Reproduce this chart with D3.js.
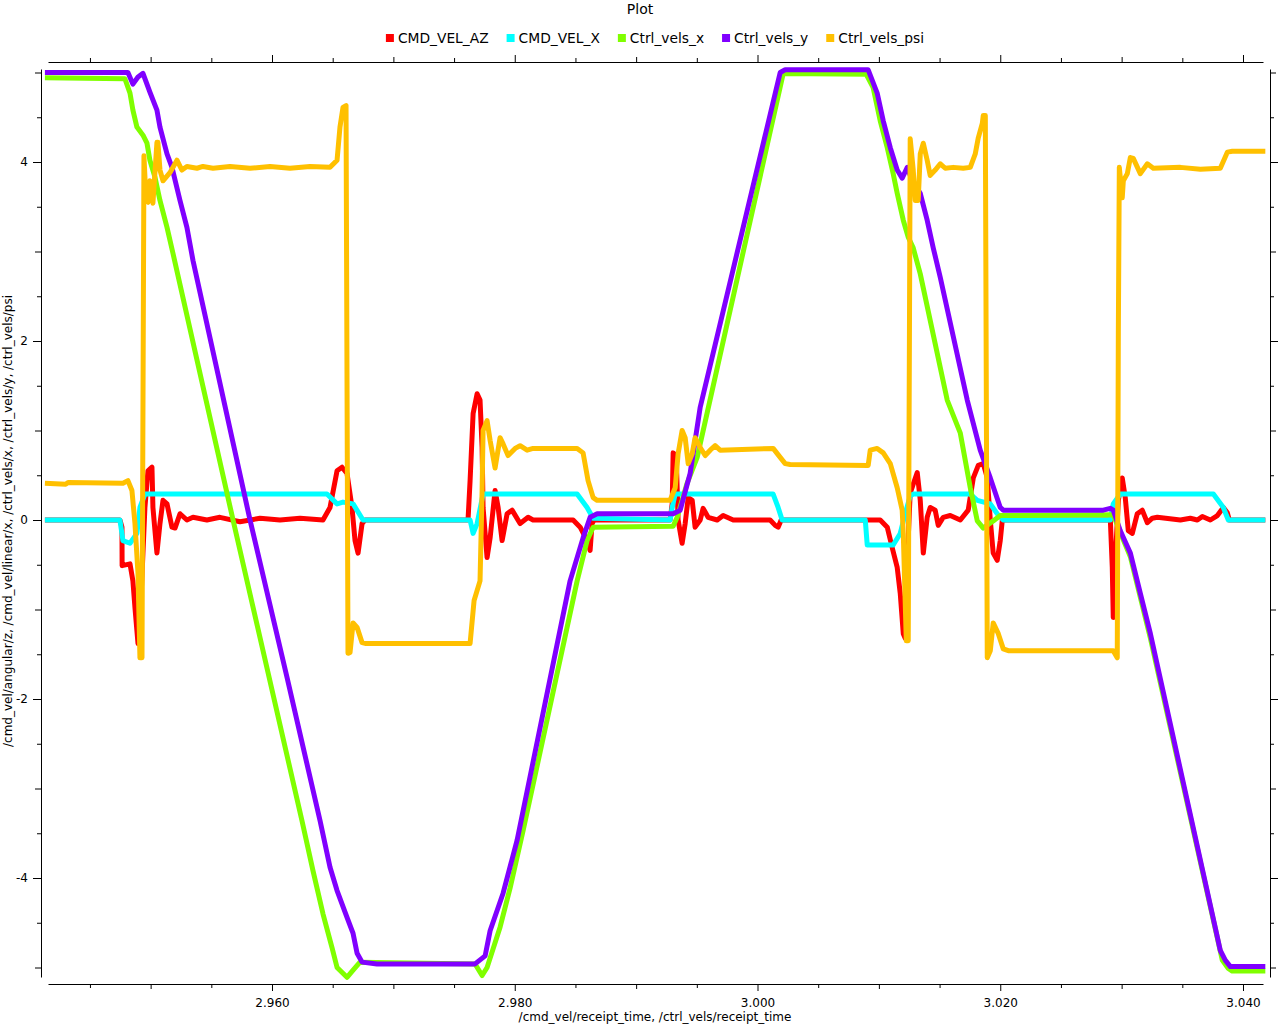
<!DOCTYPE html>
<html><head><meta charset="utf-8">
<script src="https://cdn.jsdelivr.net/npm/d3@7"></script>
<style>
body{margin:0;background:#fff}
svg{display:block}
text{font-family:"DejaVu Sans",sans-serif;fill:#000}
</style>
</head><body>
<svg id="c" width="1280" height="1024"></svg>
<script>
const titleText = "Plot";
const xTitle = "/cmd_vel/receipt_time, /ctrl_vels/receipt_time";
const yTitle = "/cmd_vel/angular/z, /cmd_vel/linear/x, /ctrl_vels/x, /ctrl_vels/y, /ctrl_vels/psi";
const seriesNames = ["CMD_VEL_AZ", "CMD_VEL_X", "Ctrl_vels_x", "Ctrl_vels_y", "Ctrl_vels_psi"];
const seriesColors = ["#ff0000", "#00ffff", "#80ff00", "#8000ff", "#ffc000"];
const xMajorTicks = [2.960, 2.980, 3.000, 3.020, 3.040];
const yMajorTicks = [-4, -2, 0, 2, 4];

const cmdVelAz = [[2.94129,0],[2.94747,0],[2.94764,-0.08],[2.94765,-0.51],[2.94830,-0.49],[2.94854,-0.68],[2.94871,-0.98],[2.94896,-1.38],[2.94920,-0.90],[2.94953,0.14],[2.94978,0.55],[2.95011,0.59],[2.95019,0.14],[2.95052,-0.37],[2.95077,-0.04],[2.95102,0.22],[2.95135,0.18],[2.95176,-0.08],[2.95201,-0.09],[2.95242,0.07],[2.95299,0.0],[2.95349,0.03],[2.95464,0.0],[2.95571,0.03],[2.95736,-0.02],[2.95901,0.02],[2.96066,0.0],[2.96231,0.02],[2.96420,0.0],[2.96478,0.14],[2.96536,0.55],[2.96577,0.59],[2.96618,0.52],[2.96659,0.14],[2.96684,-0.23],[2.96709,-0.37],[2.96742,-0.04],[2.96767,0],[2.97615,0],[2.97632,0.44],[2.97657,1.19],[2.97690,1.41],[2.97714,1.34],[2.97731,0.81],[2.97739,0.14],[2.97772,-0.42],[2.97797,-0.20],[2.97838,0.33],[2.97863,0.14],[2.97896,-0.23],[2.97937,0.07],[2.97978,0.11],[2.98044,-0.04],[2.98110,0.03],[2.98151,0],[2.98481,0],[2.98539,-0.08],[2.98596,-0.23],[2.98621,-0.34],[2.98637,-0.04],[2.98654,0],[2.99280,0],[2.99297,0.18],[2.99305,0.75],[2.99330,0.72],[2.99346,0],[2.99379,-0.26],[2.99404,-0.04],[2.99429,0.25],[2.99462,0.22],[2.99486,-0.08],[2.99528,0],[2.99552,0.13],[2.99593,0.03],[2.99668,0],[2.99717,0.05],[2.99800,0],[3.00104,0],[3.00146,-0.06],[3.00170,-0.08],[3.00195,0],[3.01011,0],[3.01069,-0.08],[3.01110,-0.31],[3.01151,-0.53],[3.01176,-0.82],[3.01201,-1.27],[3.01217,-1.32],[3.01234,-0.45],[3.01258,0.30],[3.01316,0.53],[3.01341,0.22],[3.01366,-0.37],[3.01398,0.03],[3.01423,0.14],[3.01464,0.11],[3.01489,-0.06],[3.01530,0.03],[3.01588,0.05],[3.01671,0],[3.01736,0.11],[3.01778,0.47],[3.01819,0.61],[3.01860,0.63],[3.01893,0.47],[3.01918,0],[3.01942,-0.37],[3.01975,-0.45],[3.02000,-0.23],[3.02017,0],[3.02907,0],[3.02923,-0.53],[3.02931,-1.09],[3.02948,-0.45],[3.02973,0.22],[3.03005,0.47],[3.03030,0.25],[3.03055,-0.12],[3.03088,-0.15],[3.03129,0.07],[3.03170,0.11],[3.03212,-0.03],[3.03253,0.02],[3.03294,0.03],[3.03484,0],[3.03566,0.02],[3.03624,0],[3.03665,0.04],[3.03731,0],[3.03789,0.05],[3.03838,0.14],[3.03871,0.08],[3.03887,0],[3.04184,0]];

const cmdVelX = [[2.94129,0],[2.94747,0],[2.94772,-0.23],[2.94830,-0.26],[2.94887,-0.15],[2.94912,0.14],[2.94953,0.29],[2.96453,0.29],[2.96536,0.18],[2.96585,0.20],[2.96668,0.18],[2.96750,0],[2.97632,0],[2.97657,-0.15],[2.97690,-0.04],[2.97739,0.29],[2.98514,0.29],[2.98596,0.14],[2.98646,0.02],[2.99280,0],[2.99297,0.14],[2.99322,0.29],[3.00129,0.29],[3.00170,0.14],[3.00203,0],[3.00888,0],[3.00904,-0.28],[3.01118,-0.28],[3.01176,-0.15],[3.01217,0.07],[3.01258,0.27],[3.01283,0.29],[3.01753,0.29],[3.01811,0.22],[3.01918,0.18],[3.01975,0.07],[3.02025,0],[3.02907,0],[3.02931,0.18],[3.02989,0.29],[3.03756,0.29],[3.03838,0.14],[3.03879,0],[3.04184,0]];

const ctrlVelsX = [[2.94129,4.94],[2.94788,4.93],[2.94830,4.77],[2.94854,4.58],[2.94887,4.39],[2.94937,4.30],[2.94970,4.21],[2.94994,4.02],[2.95036,3.83],[2.95077,3.57],[2.95135,3.27],[2.95184,2.98],[2.95679,0.0],[2.96247,-3.36],[2.96338,-3.92],[2.96420,-4.40],[2.96495,-4.78],[2.96536,-5.00],[2.96618,-5.11],[2.96668,-5.03],[2.96725,-4.94],[2.97673,-4.96],[2.97731,-5.09],[2.97772,-5.00],[2.97879,-4.55],[2.97962,-4.11],[2.98069,-3.47],[2.98514,-0.68],[2.98596,-0.23],[2.98646,-0.08],[2.99305,-0.07],[2.99338,0.03],[2.99420,0.41],[2.99503,0.70],[3.00212,4.99],[3.00896,4.98],[3.00953,4.83],[3.01011,4.46],[3.01069,4.16],[3.01118,3.87],[3.01151,3.65],[3.01201,3.35],[3.01242,3.16],[3.01283,3.04],[3.01341,2.75],[3.01563,1.34],[3.01671,0.97],[3.01753,0.36],[3.01811,-0.01],[3.01860,-0.09],[3.01942,-0.01],[3.02000,0.05],[3.02931,0.06],[3.02989,-0.14],[3.03072,-0.41],[3.03237,-1.32],[3.03830,-4.92],[3.03879,-5.01],[3.03912,-5.04],[3.04184,-5.04]];

const ctrlVelsY = [[2.94129,5.00],[2.94813,5.00],[2.94854,4.87],[2.94896,4.95],[2.94937,4.99],[2.94994,4.78],[2.95052,4.58],[2.95077,4.39],[2.95135,4.09],[2.95176,3.94],[2.95242,3.57],[2.95299,3.27],[2.95349,2.90],[2.95819,0.0],[2.96124,-1.76],[2.96396,-3.36],[2.96478,-3.88],[2.96536,-4.14],[2.96618,-4.44],[2.96668,-4.62],[2.96701,-4.84],[2.96742,-4.94],[2.96865,-4.96],[2.97673,-4.96],[2.97756,-4.87],[2.97797,-4.59],[2.97904,-4.17],[2.98019,-3.58],[2.98456,-0.68],[2.98563,-0.20],[2.98621,0.03],[2.98679,0.07],[2.99305,0.07],[2.99363,0.11],[2.99445,0.52],[2.99528,1.26],[3.00187,5.00],[3.00228,5.03],[3.00912,5.03],[3.00986,4.77],[3.01036,4.46],[3.01094,4.16],[3.01151,3.91],[3.01192,3.82],[3.01234,3.94],[3.01275,3.79],[3.01341,3.65],[3.01398,3.35],[3.01448,3.04],[3.01506,2.71],[3.01728,1.34],[3.01835,0.78],[3.01918,0.47],[3.02000,0.14],[3.02025,0.11],[3.02849,0.11],[3.02907,0.13],[3.02931,0.11],[3.02989,-0.12],[3.03072,-0.37],[3.03154,-0.82],[3.03237,-1.27],[3.03813,-4.81],[3.03855,-4.92],[3.03896,-4.99],[3.04184,-4.99]];

const ctrlVelsPsi = [[2.94129,0.41],[2.94300,0.40],[2.94320,0.42],[2.94772,0.41],[2.94813,0.44],[2.94846,0.33],[2.94871,-0.04],[2.94896,-0.60],[2.94912,-1.54],[2.94929,-1.54],[2.94945,4.07],[2.94962,3.57],[2.94978,3.55],[2.94994,3.79],[2.95019,3.54],[2.95052,4.22],[2.95060,4.22],[2.95077,3.91],[2.95102,3.79],[2.95159,3.88],[2.95217,4.02],[2.95258,3.91],[2.95299,3.95],[2.95382,3.93],[2.95431,3.95],[2.95514,3.93],[2.95654,3.95],[2.95819,3.93],[2.95984,3.95],[2.96148,3.93],[2.96313,3.95],[2.96478,3.94],[2.96536,4.02],[2.96560,4.39],[2.96585,4.61],[2.96610,4.63],[2.96626,-1.49],[2.96643,-1.48],[2.96668,-1.15],[2.96701,-1.20],[2.96742,-1.37],[2.96775,-1.38],[2.97632,-1.38],[2.97665,-0.90],[2.97714,-0.68],[2.97731,0.33],[2.97739,1.00],[2.97772,1.11],[2.97797,0.89],[2.97838,0.58],[2.97879,0.92],[2.97904,0.85],[2.97945,0.72],[2.98003,0.80],[2.98044,0.83],[2.98102,0.78],[2.98151,0.80],[2.98514,0.80],[2.98563,0.75],[2.98604,0.44],[2.98646,0.25],[2.98679,0.22],[2.99280,0.22],[2.99322,0.36],[2.99346,0.74],[2.99379,1.00],[2.99404,0.92],[2.99429,0.63],[2.99462,0.74],[2.99486,0.92],[2.99528,0.81],[2.99569,0.72],[2.99610,0.78],[2.99651,0.83],[2.99692,0.78],[3.00129,0.80],[3.00187,0.70],[3.00228,0.63],[3.00269,0.62],[3.00912,0.61],[3.00929,0.78],[3.00986,0.80],[3.01036,0.75],[3.01094,0.63],[3.01151,0.36],[3.01192,0.11],[3.01201,-0.15],[3.01226,-1.35],[3.01242,-1.35],[3.01258,4.26],[3.01283,3.91],[3.01300,3.57],[3.01324,3.57],[3.01341,4.09],[3.01366,4.21],[3.01398,4.02],[3.01423,3.85],[3.01464,3.91],[3.01506,3.98],[3.01547,3.93],[3.01613,3.94],[3.01695,3.93],[3.01753,3.94],[3.01794,4.09],[3.01819,4.27],[3.01852,4.43],[3.01860,4.52],[3.01877,4.52],[3.01893,-1.54],[3.01918,-1.46],[3.01942,-1.15],[3.01984,-1.27],[3.02025,-1.44],[3.02066,-1.46],[3.02931,-1.46],[3.02964,-1.54],[3.02973,2.12],[3.02981,3.94],[3.03005,3.60],[3.03014,3.79],[3.03047,3.87],[3.03072,4.05],[3.03096,4.04],[3.03154,3.87],[3.03212,3.98],[3.03261,3.93],[3.03484,3.94],[3.03649,3.92],[3.03813,3.93],[3.03871,4.11],[3.03912,4.12],[3.04184,4.12]];

const seriesData = [cmdVelAz, cmdVelX, ctrlVelsX, ctrlVelsY, ctrlVelsPsi];

const svg = d3.select("#c");

// scales
const xScale = d3.scaleLinear().domain([2.960, 3.040]).range([272, 1243]);
const yScale = d3.scaleLinear().domain([-4, 4]).range([878, 162]);
const xAxisScale = d3.scaleLinear().domain([xScale.invert(48), xScale.invert(1263)]).range([48, 1263]);
const yAxisScale = d3.scaleLinear().domain([yScale.invert(977), yScale.invert(69)]).range([977, 69]);

const xd = xAxisScale.domain();
const yd = yAxisScale.domain();
const xMinor = d3.range(Math.ceil(xd[0]/0.005)*0.005, xd[1], 0.005).filter(v => Math.abs(Math.round(v/0.01)*0.01 - v) > 1e-6);
const xMed = d3.range(Math.ceil(xd[0]/0.01)*0.01, xd[1], 0.01).filter(v => Math.abs(Math.round(v/0.02)*0.02 - v) > 1e-6);
const yMinor = d3.range(Math.ceil(yd[0]/0.5)*0.5, yd[1], 0.5).filter(v => Math.abs(Math.round(v) - v) > 1e-6);
const yMed = d3.range(Math.ceil(yd[0]), yd[1] + 1e-9, 1).filter(v => Math.abs(v % 2) === 1);

function styleAxis(g) {
  g.selectAll("path.domain").attr("stroke", "#000");
  g.selectAll(".tick line").attr("stroke", "#000");
  g.selectAll(".tick text").attr("font-family", "DejaVu Sans").attr("font-size", 12).attr("fill", "#000");
}

function addAxis(gen, transform, values, size, labels, showDomain) {
  const a = gen.tickValues(values).tickSizeInner(size).tickSizeOuter(0);
  if (!labels) a.tickFormat(() => "");
  const g = svg.append("g").attr("transform", transform).call(a);
  if (!showDomain) g.select("path.domain").remove();
  styleAxis(g);
  return g;
}

// bottom axis
addAxis(d3.axisBottom(xAxisScale).tickPadding(7).tickFormat(d => d.toFixed(3)), "translate(0,984)", xMajorTicks, 7, true, true);
addAxis(d3.axisBottom(xAxisScale), "translate(0,984)", xMed, 5, false, false);
addAxis(d3.axisBottom(xAxisScale), "translate(0,984)", xMinor, 4, false, false);
// top axis
addAxis(d3.axisTop(xAxisScale), "translate(0,62)", xMajorTicks, 7, false, true);
addAxis(d3.axisTop(xAxisScale), "translate(0,62)", xMed, 5, false, false);
addAxis(d3.axisTop(xAxisScale), "translate(0,62)", xMinor, 4, false, false);
// left axis
addAxis(d3.axisLeft(yAxisScale).tickPadding(5).tickFormat(d => String(d)), "translate(41,0)", yMajorTicks, 8, true, true);
addAxis(d3.axisLeft(yAxisScale), "translate(41,0)", yMed, 6, false, false);
addAxis(d3.axisLeft(yAxisScale), "translate(41,0)", yMinor, 4, false, false);
// right axis
addAxis(d3.axisRight(yAxisScale), "translate(1270,0)", yMajorTicks, 8, false, true);
addAxis(d3.axisRight(yAxisScale), "translate(1270,0)", yMed, 6, false, false);
addAxis(d3.axisRight(yAxisScale), "translate(1270,0)", yMinor, 4, false, false);

// lines
const line = d3.line().x(d => xScale(d[0])).y(d => yScale(d[1]));
svg.append("defs").append("clipPath").attr("id", "clip")
  .append("rect").attr("x", 42).attr("y", 63).attr("width", 1227).attr("height", 920);
const plotG = svg.append("g").attr("clip-path", "url(#clip)");
seriesData.forEach((data, i) => {
  plotG.append("path").datum(data)
    .attr("d", line)
    .attr("fill", "none")
    .attr("stroke", seriesColors[i])
    .attr("stroke-width", 5)
    .attr("stroke-linejoin", "round");
});

// title
svg.append("text").attr("x", 640).attr("y", 14).attr("text-anchor", "middle")
  .attr("font-size", 14).text(titleText);

// legend
const legendG = svg.append("g");
let lx = 0;
seriesNames.forEach((name, i) => {
  legendG.append("rect").attr("x", lx).attr("y", 34).attr("width", 8).attr("height", 8).attr("fill", seriesColors[i]);
  const t = legendG.append("text").attr("x", lx + 12).attr("y", 43).attr("font-size", 13.8).text(name);
  lx += 12 + t.node().getComputedTextLength() + 18;
});
const legendW = lx - 18;
legendG.attr("transform", `translate(${(655 - legendW / 2).toFixed(1)},0)`);

// axis titles
svg.append("text").attr("x", 655).attr("y", 1021).attr("text-anchor", "middle")
  .attr("font-size", 12).text(xTitle);
svg.append("text").attr("transform", "translate(12,521) rotate(-90)").attr("text-anchor", "middle")
  .attr("font-size", 12).text(yTitle);
</script>
</body></html>
